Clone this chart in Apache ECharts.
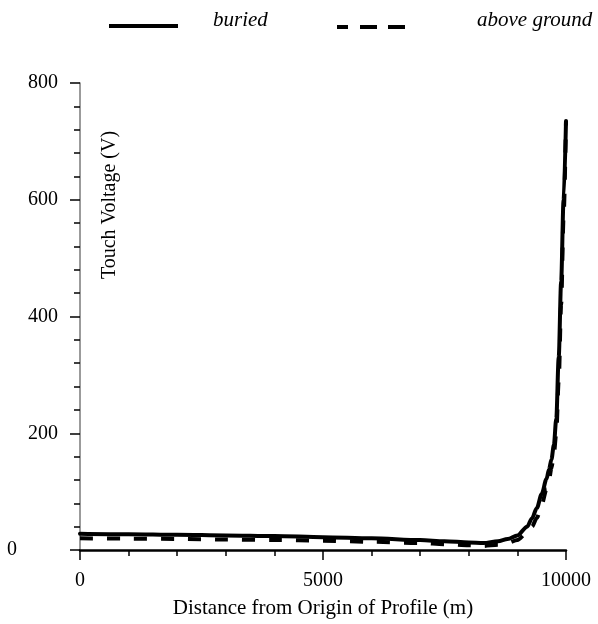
<!DOCTYPE html>
<html><head><meta charset="utf-8">
<script src="https://cdn.jsdelivr.net/npm/echarts/dist/echarts.min.js"></script>
<style>html,body{margin:0;padding:0;background:#fff}#c{width:598px;height:624px}</style>
</head><body><div id="c"></div>
<script>
// Distance from origin of profile (m)
const distance    = [0, 1000, 2000, 3000, 4000, 5000, 6000, 7000, 7500, 8000, 8300, 8600, 8800, 9000, 9200, 9300, 9400, 9500, 9600, 9650, 9700, 9750, 9800, 9850, 9900, 9950, 10000];
// Touch voltage (V), buried line
const buried      = [28, 27, 26, 25, 24, 22, 20, 17, 15, 13, 12, 15, 19, 25, 40, 54, 72, 96, 122, 138, 155, 180, 225, 330, 460, 600, 735];
// Touch voltage (V), above-ground line
const aboveGround = [20, 19.5, 19, 18, 17, 16, 14, 12, 10, 8, 7, 9, 12, 17, 30, 40, 55, 78, 104, 120, 140, 165, 200, 290, 420, 570, 735];
const seriesNames = ['buried', 'above ground'];
const xTitle = 'Distance from Origin of Profile (m)';
const yTitle = 'Touch Voltage (V)';

const FONT = '"Liberation Serif", "Times New Roman", serif';
const pairs = (ys) => distance.map((d, i) => [d, ys[i]]);

const chart = echarts.init(document.getElementById('c'), null, {renderer: 'canvas'});
chart.setOption({
  animation: false,
  backgroundColor: '#fff',
  grid: {left: 80, right: 32, top: 83, bottom: 70, containLabel: false},
  xAxis: {
    type: 'value', min: 0, max: 10000, interval: 5000,
    name: xTitle, nameLocation: 'middle', nameGap: 48,
    nameTextStyle: {fontFamily: FONT, fontSize: 21, color: '#000'},
    axisLine: {lineStyle: {color: '#000', width: 2.5}},
    axisTick: {show: true, length: 10, lineStyle: {color: '#000', width: 1.5}},
    minorTick: {show: true, splitNumber: 5, length: 6, lineStyle: {color: '#000', width: 1.5}},
    axisLabel: {fontFamily: FONT, fontSize: 20, color: '#000', margin: 21, showMinLabel: true, showMaxLabel: true,
                formatter: (v) => String(v)},
    splitLine: {show: false}, minorSplitLine: {show: false}
  },
  yAxis: {
    type: 'value', min: 0, max: 800, interval: 200,
    axisLine: {show: true, lineStyle: {color: '#7a7a7a', width: 1.5}},
    axisTick: {show: true, length: 10, lineStyle: {color: '#000', width: 1.5}},
    minorTick: {show: true, splitNumber: 5, length: 6, lineStyle: {color: '#000', width: 1.5}},
    axisLabel: {
      fontFamily: FONT, fontSize: 20, color: '#000', margin: 22,
      formatter: (v) => v === 0 ? '{z|0}' : String(v),
      rich: {z: {fontFamily: FONT, fontSize: 20, color: '#000', padding: [0, 41, 0, 0]}}
    },
    splitLine: {show: false}, minorSplitLine: {show: false}
  },
  graphic: [
    {type: 'text', x: 110, y: 205, rotation: Math.PI / 2,
     style: {text: yTitle, font: '20px ' + FONT, fill: '#000', textAlign: 'center', textVerticalAlign: 'middle'}},
    {type: 'line', shape: {x1: 109, y1: 26, x2: 178, y2: 26}, style: {stroke: '#000', lineWidth: 4}},
    {type: 'text', x: 213, y: 20, style: {text: seriesNames[0], font: 'italic 21px ' + FONT, fill: '#000', textAlign: 'left', textVerticalAlign: 'middle'}},
    {type: 'rect', shape: {x: 337, y: 25, width: 11, height: 4}, style: {fill: '#000'}},
    {type: 'rect', shape: {x: 360, y: 25, width: 17, height: 4}, style: {fill: '#000'}},
    {type: 'rect', shape: {x: 388, y: 25, width: 17, height: 4}, style: {fill: '#000'}},
    {type: 'text', x: 477, y: 20, style: {text: seriesNames[1], font: 'italic 21px ' + FONT, fill: '#000', textAlign: 'left', textVerticalAlign: 'middle'}}
  ],
  series: [
    {name: seriesNames[0], type: 'line', data: pairs(buried), showSymbol: false, symbol: 'none',
     smooth: 0.3, smoothMonotone: 'x', lineStyle: {color: '#000', width: 4, cap: 'round'}, z: 3},
    {name: seriesNames[1], type: 'line', data: pairs(aboveGround), showSymbol: false, symbol: 'none',
     smooth: 0.3, smoothMonotone: 'x', lineStyle: {color: '#000', width: 4, type: [13, 14]}, z: 2}
  ]
});
</script></body></html>
